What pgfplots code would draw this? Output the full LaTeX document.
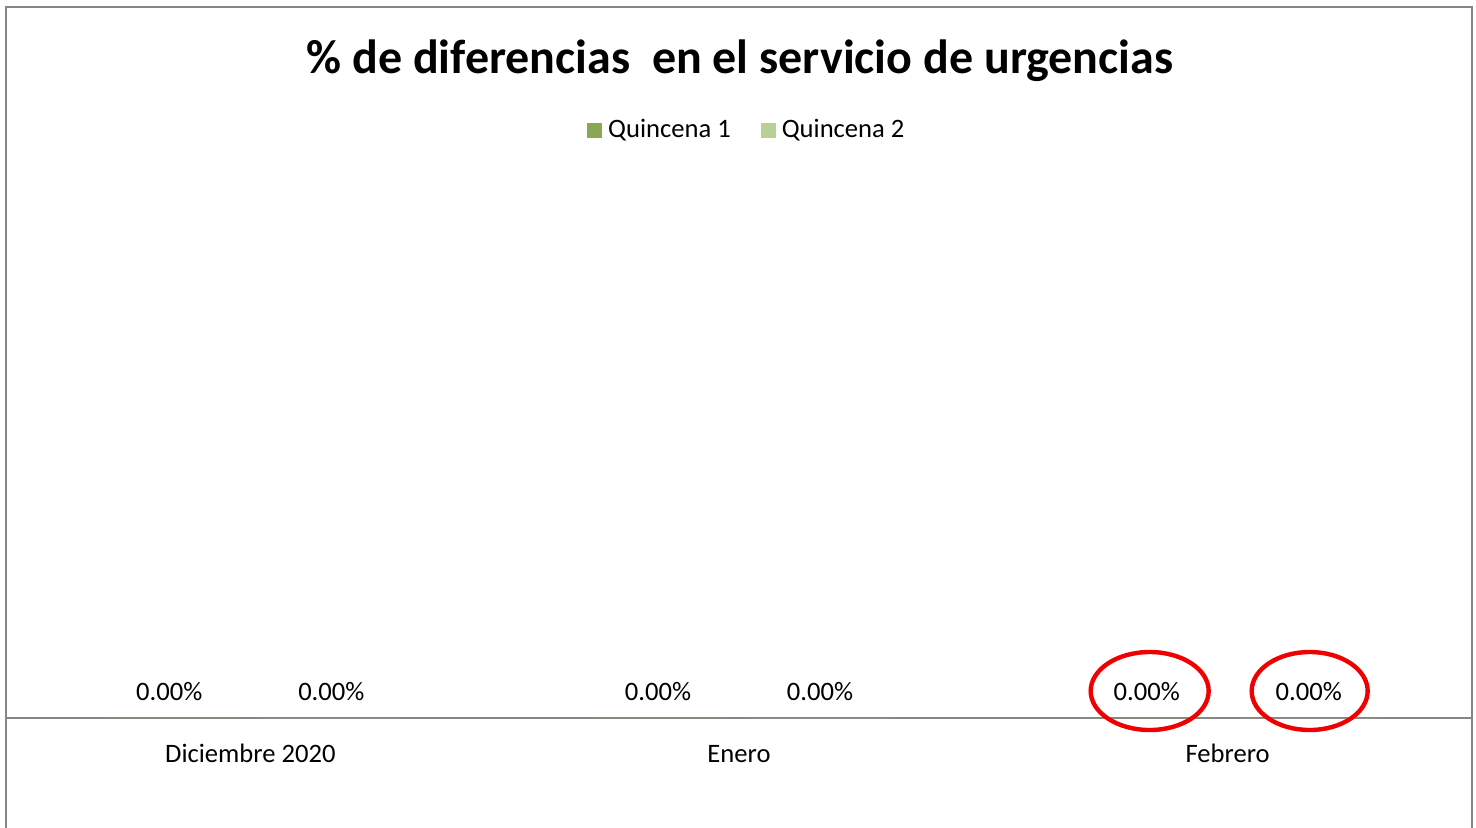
\documentclass[border=0pt]{standalone}
\usepackage{pgfplots}
\pgfplotsset{compat=1.18}
\usepackage{fontspec}
\setmainfont{Carlito}
\definecolor{qone}{RGB}{138,168,84}
\definecolor{qtwo}{RGB}{184,207,150}
\definecolor{framegray}{RGB}{134,134,134}
\definecolor{ringred}{RGB}{240,0,0}
\begin{document}
\begin{tikzpicture}[x=1pt,y=1pt]
\useasboundingbox (0,0) rectangle (738,413.5);
\clip (0,0) rectangle (738,413.5);
\draw[framegray, line width=1.2pt] (3,-10) rectangle (736,410);
\node[font=\fontsize{24}{29}\selectfont\bfseries] at (370,383) {\% de diferencias\ \ en el servicio de urgencias};
\begin{axis}[
  at={(3pt,54.5pt)}, anchor=south west,
  width=733pt, height=274pt, scale only axis,
  xmin=-0.5, xmax=2.5, ymin=0, ymax=1,
  enlargelimits=false, clip=false,
  axis x line=bottom, axis y line=none,
  x axis line style={-, framegray, line width=1pt},
  xtick={0,1,2}, xticklabels={Diciembre 2020, Enero, Febrero},
  major tick length=0pt,
  xticklabel style={anchor=base, yshift=-22pt, font=\fontsize{13.3}{16}\selectfont},
  ybar=11pt, bar width=70pt,
  nodes near coords={\pgfmathprintnumber[fixed,fixed zerofill,precision=2,assume math mode=true]{\pgfplotspointmeta}\%},
  every node near coord/.append style={anchor=base, yshift=9pt, font=\fontsize{13.3}{16}\selectfont, black},
  legend style={at={(0.506,1.073)}, anchor=center, draw=none, legend columns=2,
    font=\fontsize{13.3}{16}\selectfont,
    /tikz/every even column/.append style={column sep=13pt}},
  legend image code/.code={\path (0pt,0pt) -- (8.5pt,0pt); \fill[#1] (0pt,-3.75pt) rectangle (7.5pt,3.75pt);},
]
\addplot[fill=qone, draw=none] coordinates {(0,0) (1,0) (2,0)};
\addplot[fill=qtwo, draw=none] coordinates {(0,0) (1,0) (2,0)};
\legend{Quincena 1, Quincena 2}
\draw[ringred, line width=2.2pt] ([xshift=-39pt, yshift=13.5pt]axis cs:2,0) ellipse [x radius=29.5pt, y radius=19.5pt];
\draw[ringred, line width=2.2pt] ([xshift=41pt, yshift=13.5pt]axis cs:2,0) ellipse [x radius=29pt, y radius=19.5pt];
\end{axis}
\end{tikzpicture}
\end{document}
